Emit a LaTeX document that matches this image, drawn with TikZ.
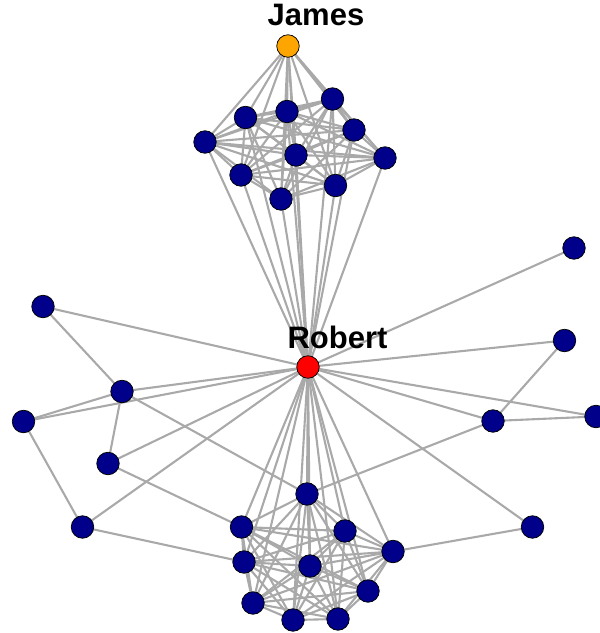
\documentclass[tikz,border=0pt]{standalone}
\usepackage{fontspec}
\setmainfont{Liberation Sans}
\usetikzlibrary{backgrounds}
\definecolor{nodeblue}{HTML}{00008B}
\definecolor{edgegray}{HTML}{A9A9A9}
\definecolor{jamesor}{HTML}{FFA500}
\begin{document}
\begin{tikzpicture}[x=1pt,y=-1pt,
  vtx/.style={circle,draw=black,line width=0.75pt,fill=nodeblue,minimum size=22.5pt,inner sep=0pt},
  edge/.style={draw=edgegray,line width=2.1pt},
  lbl/.style={font=\fontsize{31}{37}\selectfont\bfseries,anchor=base,inner sep=0pt}]
\useasboundingbox (0,0) rectangle (600,633);
% hubs
\node[vtx,fill=jamesor] (james) at (288,46) {};
\node[vtx,fill=red] (robert) at (308,367) {};
\node[lbl] (jamesl) at (316,25) {James};
\node[lbl] (robertl) at (337.5,348) {Robert};
% top cluster
\node[vtx] (t1) at (205,142) {};
\node[vtx] (t2) at (245.5,117.5) {};
\node[vtx] (t3) at (287,111.5) {};
\node[vtx] (t4) at (332.5,99) {};
\node[vtx] (t5) at (354,130) {};
\node[vtx] (t6) at (385,158) {};
\node[vtx] (t7) at (296,155) {};
\node[vtx] (t8) at (241,175) {};
\node[vtx] (t9) at (281,199) {};
\node[vtx] (t10) at (335.5,185.5) {};
% bottom cluster
\node[vtx] (b1) at (307,494) {};
\node[vtx] (b2) at (241.5,527) {};
\node[vtx] (b3) at (345,531) {};
\node[vtx] (b4) at (393,551.5) {};
\node[vtx] (b5) at (244,562) {};
\node[vtx] (b6) at (310,566) {};
\node[vtx] (b7) at (368,591) {};
\node[vtx] (b8) at (253,603) {};
\node[vtx] (b9) at (293,620) {};
\node[vtx] (b10) at (338,619) {};
% left
\node[vtx] (l1) at (43,306.5) {};
\node[vtx] (l2) at (122,391.5) {};
\node[vtx] (l3) at (23.5,421.5) {};
\node[vtx] (l4) at (108,463.5) {};
\node[vtx] (l5) at (82.5,527) {};
% right
\node[vtx] (r1) at (574,248) {};
\node[vtx] (r2) at (564.5,340.5) {};
\node[vtx] (r3) at (596,416.5) {};
\node[vtx] (r4) at (493,421) {};
\node[vtx] (r5) at (532.5,527) {};
\begin{scope}[on background layer]
  \foreach \i [evaluate=\i as \n using int(\i+1)] in {1,...,9} {
    \foreach \j in {\n,...,10} {
      \draw[edge] (t\i.center) -- (t\j.center);
      \draw[edge] (b\i.center) -- (b\j.center);
    }
  }
  \foreach \i in {1,...,10} {
    \draw[edge] (james.center) -- (t\i.center);
    \draw[edge] (robert.center) -- (t\i.center);
    \draw[edge] (robert.center) -- (b\i.center);
  }
  \draw[edge] (james.center) -- (robert.center);
  \foreach \p in {l1,l2,l3,l4,l5,r1,r2,r3,r4,r5} {
    \draw[edge] (robert.center) -- (\p.center);
  }
  \draw[edge] (l1.center) -- (l2.center);
  \draw[edge] (l2.center) -- (l3.center);
  \draw[edge] (l2.center) -- (l4.center);
  \draw[edge] (l2.center) -- (b1.center);
  \draw[edge] (l3.center) -- (l5.center);
  \draw[edge] (l4.center) -- (b2.center);
  \draw[edge] (l5.center) -- (b5.center);
  \draw[edge] (r2.center) -- (r4.center);
  \draw[edge] (r3.center) -- (r4.center);
  \draw[edge] (r4.center) -- (b1.center);
  \draw[edge] (r5.center) -- (b4.center);
\end{scope}
\end{tikzpicture}
\end{document}
